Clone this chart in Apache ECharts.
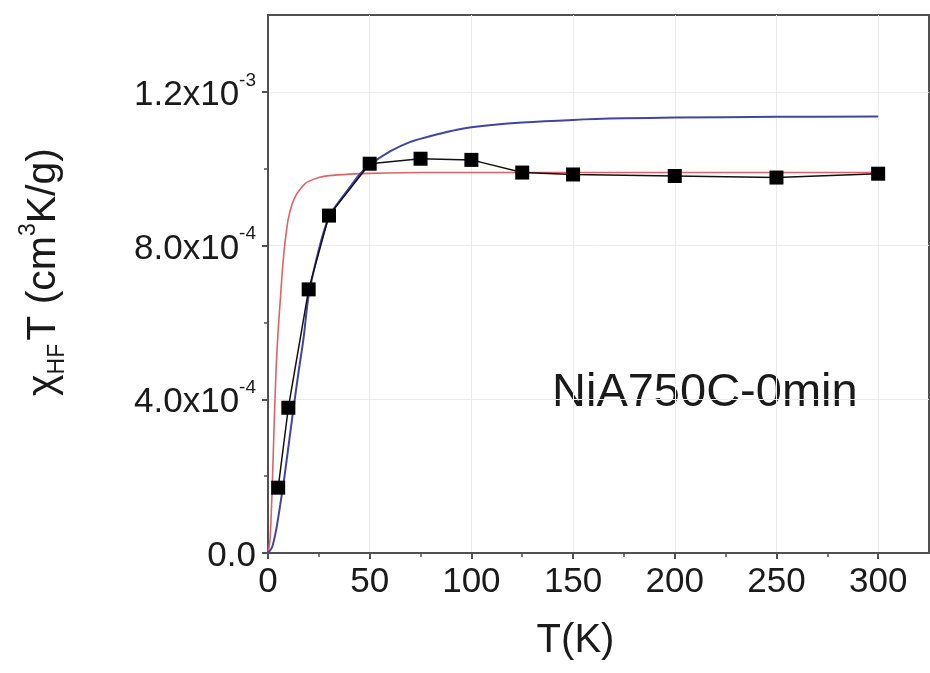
<!DOCTYPE html>
<html>
<head>
<meta charset="utf-8">
<script src="https://cdn.jsdelivr.net/npm/echarts@6/dist/echarts.min.js"></script>
<style>
  html, body { margin: 0; padding: 0; background: #ffffff; }
  #chart { width: 930px; height: 673px; }
</style>
</head>
<body>
<div id="chart"></div>
<script>
// Measured high-field susceptibility product vs temperature
const tempK = [5, 10, 20, 30, 50, 75, 100, 125, 150, 200, 250, 300];
const chiT = [1.70e-4, 3.78e-4, 6.86e-4, 8.78e-4, 10.13e-4, 10.26e-4, 10.23e-4, 9.90e-4, 9.85e-4, 9.81e-4, 9.77e-4, 9.87e-4];

// Fit curve 1 (red)
const fitRedT = [0, 1, 2, 3, 4, 5, 6, 7, 8, 9, 10, 12, 14, 16, 18, 20, 25, 30, 40, 50, 75, 100, 150, 200, 250, 300];
const fitRedV = [0, 0.35e-4, 1.6e-4, 3.3e-4, 4.8e-4, 5.8e-4, 6.55e-4, 7.3e-4, 7.9e-4, 8.35e-4, 8.7e-4, 9.1e-4, 9.33e-4, 9.48e-4, 9.6e-4, 9.67e-4, 9.77e-4, 9.82e-4, 9.86e-4, 9.88e-4, 9.9e-4, 9.9e-4, 9.9e-4, 9.9e-4, 9.9e-4, 9.9e-4];

// Fit curve 2 (blue)
const fitBlueT = [0, 2, 4, 6, 8, 10, 12.5, 15, 17.5, 20, 25, 30, 35, 40, 45, 50, 60, 70, 80, 90, 100, 125, 150, 175, 200, 250, 300];
const fitBlueV = [0, 0.15e-4, 0.6e-4, 1.25e-4, 1.95e-4, 2.75e-4, 3.75e-4, 4.7e-4, 5.6e-4, 6.7e-4, 7.9e-4, 8.75e-4, 9.15e-4, 9.5e-4, 9.85e-4, 10.1e-4, 10.45e-4, 10.7e-4, 10.85e-4, 10.98e-4, 11.08e-4, 11.2e-4, 11.27e-4, 11.31e-4, 11.33e-4, 11.35e-4, 11.36e-4];

// Axis ticks and their labels (mantissa + exponent)
const xTicks = [0, 50, 100, 150, 200, 250, 300];
const yTicks = [0, 4e-4, 8e-4, 1.2e-3];
const yTickMantissa = ['0.0', '4.0x10', '8.0x10', '1.2x10'];
const yTickExponent = ['', '-4', '-4', '-3'];

const sampleLabel = 'NiA750C-0min';

const pairs = (xs, ys) => xs.map((x, i) => [x, ys[i]]);
const FONT = '"Liberation Sans", Arial, sans-serif';
const AXIS_COLOR = '#505050';
const TEXT_COLOR = '#1a1a1a';

function yLabel(v) {
  let k = 0;
  yTicks.forEach((t, i) => { if (Math.abs(t - v) < Math.abs(yTicks[k] - v)) k = i; });
  const m = '{m|' + yTickMantissa[k] + '}';
  return yTickExponent[k] ? m + '{e|' + yTickExponent[k] + '}' : m;
}

const chart = echarts.init(document.getElementById('chart'));
chart.setOption({
  backgroundColor: '#ffffff',
  animation: false,
  grid: {
    left: 268, right: 1, top: 15, bottom: 120,
    outerBoundsMode: 'none', containLabel: false,
    show: true, borderColor: AXIS_COLOR, borderWidth: 2, backgroundColor: 'transparent'
  },
  xAxis: {
    type: 'value', min: 0, max: 325, interval: 50,
    name: 'T(K)', nameLocation: 'middle', nameGap: 68,
    nameTextStyle: { fontFamily: FONT, fontSize: 40, color: TEXT_COLOR, padding: [0, 46, 0, 0] },
    axisLine: { show: true, lineStyle: { color: AXIS_COLOR, width: 2 } },
    axisTick: { show: true, inside: false, length: 6, customValues: xTicks, lineStyle: { color: AXIS_COLOR, width: 2 } },
    minorTick: { show: true, splitNumber: 2, length: 4, lineStyle: { color: AXIS_COLOR, width: 1.5 } },
    axisLabel: {
      fontFamily: FONT, fontSize: 35, color: TEXT_COLOR, margin: 12,
      customValues: xTicks,
      formatter: (v) => String(v)
    },
    splitLine: { show: true, lineStyle: { color: '#ececec', width: 1 } }
  },
  yAxis: {
    type: 'value', min: 0, max: 1.4e-3, interval: 4e-4,
    name: '{b|χ}{sub|HF}{b|T (cm}{sup|3}{b|K/g)}',
    nameLocation: 'middle', nameGap: 204, nameRotate: 90,
    nameTextStyle: {
      fontFamily: FONT, fontSize: 41, color: TEXT_COLOR,
      padding: [0, 0, 0, 24],
      rich: {
        b: { fontFamily: FONT, fontSize: 41, color: TEXT_COLOR, lineHeight: 50, verticalAlign: 'bottom' },
        sub: { fontFamily: FONT, fontSize: 23, color: TEXT_COLOR, lineHeight: 50, verticalAlign: 'bottom', padding: [0, 3, -5, 0] },
        sup: { fontFamily: FONT, fontSize: 23, color: TEXT_COLOR, lineHeight: 50, verticalAlign: 'top', padding: [3, 0, 0, 0] }
      }
    },
    axisLine: { show: true, lineStyle: { color: AXIS_COLOR, width: 2 } },
    axisTick: { show: true, inside: false, length: 6, customValues: yTicks, lineStyle: { color: AXIS_COLOR, width: 2 } },
    minorTick: { show: true, splitNumber: 2, length: 4, lineStyle: { color: AXIS_COLOR, width: 1.5 } },
    axisLabel: {
      margin: 12,
      customValues: yTicks,
      formatter: yLabel,
      rich: {
        m: { fontFamily: FONT, fontSize: 35, color: TEXT_COLOR, lineHeight: 42, verticalAlign: 'bottom' },
        e: { fontFamily: FONT, fontSize: 19, color: TEXT_COLOR, lineHeight: 42, verticalAlign: 'top' }
      }
    },
    splitLine: { show: true, lineStyle: { color: '#ececec', width: 1 } }
  },
  graphic: [{
    type: 'text', left: 552, top: 370,
    style: { text: sampleLabel, font: '47px ' + FONT, fill: TEXT_COLOR }
  }],
  series: [
    {
      name: 'fit-red', type: 'line', data: pairs(fitRedT, fitRedV),
      showSymbol: false, smooth: 0.3, z: 2,
      lineStyle: { color: '#df6266', width: 1.6 }
    },
    {
      name: 'fit-blue', type: 'line', data: pairs(fitBlueT, fitBlueV),
      showSymbol: false, smooth: 0.3, z: 3,
      lineStyle: { color: '#4343a3', width: 2 }
    },
    {
      name: 'data', type: 'line', data: pairs(tempK, chiT),
      symbol: 'rect', symbolSize: 14, z: 4,
      itemStyle: { color: '#000000' },
      lineStyle: { color: '#111111', width: 1.5 }
    }
  ]
});
</script>
</body>
</html>
